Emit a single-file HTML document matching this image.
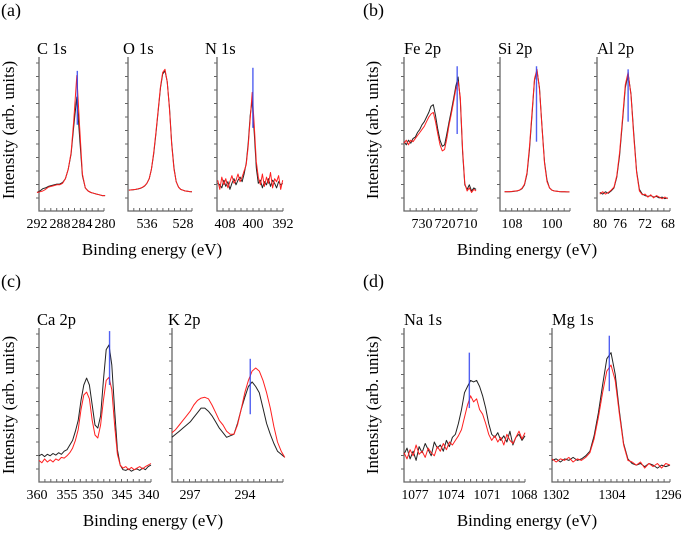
<!DOCTYPE html>
<html><head><meta charset="utf-8">
<style>
html,body{margin:0;padding:0;background:#fff;}
svg{display:block;font-family:"Liberation Serif",serif;}
</style></head>
<body>
<svg id="fig" width="685" height="535" viewBox="0 0 685 535" xmlns="http://www.w3.org/2000/svg">
<g id="static">
<text x="1" y="16" font-size="18">(a)</text>
<text x="363" y="16" font-size="18">(b)</text>
<text x="1" y="287" font-size="18">(c)</text>
<text x="363" y="287" font-size="18">(d)</text>
<text transform="translate(14,130) rotate(-90)" text-anchor="middle" font-size="17">Intensity (arb. units)</text>
<text transform="translate(378,130) rotate(-90)" text-anchor="middle" font-size="17">Intensity (arb. units)</text>
<text transform="translate(14,405) rotate(-90)" text-anchor="middle" font-size="17">Intensity (arb. units)</text>
<text transform="translate(378,405) rotate(-90)" text-anchor="middle" font-size="17">Intensity (arb. units)</text>
<text x="152" y="255" text-anchor="middle" font-size="17">Binding energy (eV)</text>
<text x="527" y="255" text-anchor="middle" font-size="17">Binding energy (eV)</text>
<text x="153" y="526" text-anchor="middle" font-size="17">Binding energy (eV)</text>
<text x="527" y="526" text-anchor="middle" font-size="17">Binding energy (eV)</text>
</g>
<g id="plots"></g>
</svg>
<script>
// ---- data (energies in eV, intensities in arb. units 0-100) ----
const cE = [292,280], cStep = 0.5;
const cBlack = [12,13,14.5,15,16,16.5,17,17.5,17.5,18.5,21,27,37,56,74,48,23,15,13,12,11.5,11,10.5,10,10];
const cRed   = [12,12.5,13,14,15.5,16,16.5,17,17,18,21,27,38,60,88,55,24,15,13,12,11.5,11,10.5,10,10];
const oE = [540,526], oStep = 0.5;
const oBlack = [13.6,13.7,13.8,14,14.3,14.7,15.3,16.3,18,21,27,37,50,65,80,89,91,84,67,44,28,19,15.5,14,13.5,13,12.8,12.6,12.5];
const oRed   = [13.5,13.7,13.9,14,14.4,14.8,15.4,16.4,18,21,27,38,51,66,81,90,92,84,66,43,27,19,15.5,14,13.5,13,12.8,12.6,12.5];
const nE = [410,392], nStep = 0.56;
const nBlack = [18,17,15,20,16,19,14,18,21,17,20,22,19,24,31,44,62,72,50,28,18,20,15,19,17,21,16,20,18,15,19,17,18];
const nRed   = [20,14,22,17,21,15,19,23,18,20,24,19,22,26,30,42,60,77,55,32,22,17,24,16,22,18,25,15,21,19,23,14,20];
const feE = [738,706], feStep = 1;
const feBlack = [45,43,46,44,47,48,51,53,56,58,61,64,68,69,62,53,46,42,43,50,58,65,73,81,87,72,38,17,14,17,13,15,14];
const feRed   = [44,46,43,46,45,47,49,51,53,55,58,61,63,64,58,50,43,39,40,47,56,63,71,79,84,74,40,18,13,15,12,14,13];
const siE = [109.5,96.5], siStep = 0.5;
const siBlack = [12.5,12.5,12.5,12.6,12.8,13,13.5,14.5,17,24,40,62,85,91,80,55,32,20,15,13.5,13,12.8,12.6,12.5,12.5,12.4,12.4];
const siRed   = [12.6,12.5,12.6,12.7,12.9,13.1,13.6,14.8,17.5,25,42,64,86,92,79,54,31,19,15,13.5,13,12.8,12.6,12.5,12.5,12.4,12.4];
const alE = [80,68], alStep = 0.5;
const alBlack = [12,11,12.5,11.5,13,15,22,36,58,80,89,76,50,26,14,11,10,9.5,10,9,9.5,8.5,9,8,8.5];
const alRed   = [11,12.5,11,12,13.5,15.5,23,38,60,82,90,75,48,25,13,10.5,11,9,10.5,8.5,10,9,8,9,8];
const caE = [360,340], caStep = 0.5;
const caBlack = [17,18,16.5,18,17,18.5,17.5,19,18,20,21,24,27,33,40,53,63,67.5,63,50,37,35,43,66,86,89,76,47,21,11,8,7.5,8.5,7,8,8.5,7.5,9,8,10,11];
const caRed   = [14,12.5,15,13,14.5,13,15,14,16,15.5,17,19,22,27,34,47,56.5,58.4,54,40,30.5,28.6,37,53,66,68,60,37,18,11,9,10,8,9.5,8,9,10,8.5,10,11,12];
const kE = [298,291.8], kStep = 0.2;
const kBlack = [29,31,33,35,37,39,42,45,48,48,46,43,39,35,32,29,30,31,38,47,55,62,65,62,58,48,38,31,25,20,18,16];
const kRed   = [32,34,37,40,43,46,50,53,54.5,55,54,50,45,40,37,33,31,31,37,47,58,66,72,74,72,66,58,48,36,26,20,16];
const naE = [1078,1068], naStep = 0.25;
const naBlack = [18,22,15,20,14,23,19,25,21,17,26,22,24,20,27,23,29,31,38,47,58,62,66,65,66,62,56,48,38,31,29,32,27,30,26,33,24,29,31,27,30];
const naRed   = [19,15,21,17,24,18,20,16,22,19,17,23,20,25,21,26,24,27,30,34,42,50,56,52,54,47,44,38,31,27,30,26,29,24,31,27,25,29,33,28,32];
const mgE = [1310,1296], mgStep = 0.5;
const mgBlack = [14,15,13,15,14,16,14,15,17,20,30,45,63,80,84,70,46,25,15,12,11,12,10,12,11,9,11,10,11];
const mgRed   = [15,13,15,14,16,13,15,14,16,19,28,42,58,72,76,66,44,24,14,13,11,13,9,12,10,12,9,12,11];
// reference (blue) markers: energy, low, high intensity
const blueE    = [284.9, null, 400.3, 714.4, 103.1, 75, 347.4, 293.7, 1072.6, 1303.2];
const blueLow  = [56, null, 54, 50, 45, 58, 63, 44, 48, 59];
const blueHigh = [91, null, 93, 94, 94, 92, 98, 80, 84, 95];
// tick labels
const ticksC = ["292","288","284","280"], ticksO=["536","528"], ticksN=["408","400","392"];
const ticksFe=["730","720","710"], ticksSi=["108","100"], ticksAl=["80","76","72","68"];
const ticksCa=["360","355","350","345","340"], ticksK=["297","294"];
const ticksNa=["1077","1074","1071","1068"], ticksMg=["1302","1304","1296"];
const titles = ["C 1s","O 1s","N 1s","Fe 2p","Si 2p","Al 2p","Ca 2p","K 2p","Na 1s","Mg 1s"];

// ---- layout ----
const panels = [
 {id:"c1s", box:[39,104,57,211], dom:[291.65,280.2], e0:cE, st:cStep, b:cBlack, r:cRed, tl:ticksC, tx:[37,60,82,105], tt:37},
 {id:"o1s", box:[128,192,57,211], dom:[540.2,526], e0:oE, st:oStep, b:oBlack, r:oRed, tl:ticksO, tx:[147,183], tt:123},
 {id:"n1s", box:[217,283,57,211], dom:[410.2,392], e0:nE, st:nStep, b:nBlack, r:nRed, tl:ticksN, tx:[225,253,283], tt:205},
 {id:"fe2p", box:[404,477,57,211], dom:[738,705.6], e0:feE, st:feStep, b:feBlack, r:feRed, tl:ticksFe, tx:[422,445,467], tt:404},
 {id:"si2p", box:[500,570,57,211], dom:[110.4,96.4], e0:siE, st:siStep, b:siBlack, r:siRed, tl:ticksSi, tx:[512,552], tt:498},
 {id:"al2p", box:[597,670,57,211], dom:[80.5,67.6], e0:alE, st:alStep, b:alBlack, r:alRed, tl:ticksAl, tx:[600,620,645,668], tt:597},
 {id:"ca2p", box:[39,151,328,482], dom:[360,340], e0:caE, st:caStep, b:caBlack, r:caRed, tl:ticksCa, tx:[37,67,93,122,149], tt:37},
 {id:"k2p", box:[172,283,328,482], dom:[298,291.9], e0:kE, st:kStep, b:kBlack, r:kRed, tl:ticksK, tx:[190,245], tt:168},
 {id:"na1s", box:[404,525,328,482], dom:[1078,1068], e0:naE, st:naStep, b:naBlack, r:naRed, tl:ticksNa, tx:[415,451,487,524], tt:404},
 {id:"mg1s", box:[552,670,328,482], dom:[1310,1296], e0:mgE, st:mgStep, b:mgBlack, r:mgRed, tl:ticksMg, tx:[556,612,668], tt:552}
];
const NS="http://www.w3.org/2000/svg";
const root=document.getElementById("plots");
function mk(tag,attrs,parent){const el=document.createElementNS(NS,tag);for(const k in attrs)el.setAttribute(k,attrs[k]);parent.appendChild(el);return el;}
panels.forEach((p,pi)=>{
  const [x0,x1,yT,yB]=p.box;
  const xs=e=>x0+(p.dom[0]-e)/(p.dom[0]-p.dom[1])*(x1-x0);
  const ys=v=>yB-v/100*(yB-yT);
  const g=mk("g",{},root);
  
  
  const t=mk("text",{x:p.tt,y:yT-3,"font-size":16.5},g);
  t.textContent=titles[pi];
  
  
  const ax=mk("path",{d:`M${x0},${yT} V${yB} H${x1}`,fill:"none",stroke:"#666","stroke-width":1.3},g);
  
  
  let d="";
  for(let y=yB-13;y>yT+4;y-=13.5) d+=`M${x0-3},${y.toFixed(1)}H${x0}`;
  const nx=Math.round((x1-x0)/6);
  for(let i=1;i<=nx;i++){const x=x0+i*(x1-x0)/nx;d+=`M${x.toFixed(1)},${yB}V${yB-3}`;}
  const tk=mk("path",{d:d,stroke:"#666","stroke-width":1},g);
  
  
  p.tl.forEach((lab,i)=>{
    const attrs={x:p.tx[i],y:yB+17,"text-anchor":"middle","font-size":14};
    if(lab.length>3){attrs.textLength=27;attrs.lengthAdjust="spacingAndGlyphs";}
    const tt=mk("text",attrs,g);
    tt.textContent=lab;
    
    
  });
  [["b","#222"],["r","#ff2020"]].forEach(([key,col])=>{
    const pts=p[key].map((v,i)=>`${xs(p.e0[0]-i*p.st).toFixed(1)},${ys(v).toFixed(1)}`).join(" ");
    const pl=mk("polyline",{points:pts,fill:"none",stroke:col,"stroke-width":1,"stroke-linejoin":"round"},g);
    
    
  });
  if(blueE[pi]!==null){
    const bl=mk("line",{x1:xs(blueE[pi]),x2:xs(blueE[pi]),y1:ys(blueLow[pi]),y2:ys(blueHigh[pi]),stroke:"#3344ee","stroke-width":1.4,"stroke-opacity":0.85},g);
    
    
  }
});
</script>
</body></html>
